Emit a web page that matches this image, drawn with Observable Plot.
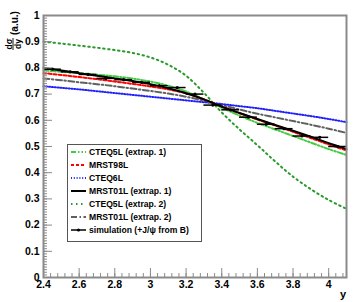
<!DOCTYPE html>
<html><head><meta charset="utf-8">
<script src="https://cdn.jsdelivr.net/npm/d3@7"></script>
<script src="https://cdn.jsdelivr.net/npm/@observablehq/plot@0.6"></script>
<style>body{margin:0;background:#fff}#c{width:357px;height:302px}</style>
</head><body><div id="c"></div>
<script>
// rapidity grid (x) for the theory curves
const xGrid = [2.4,2.5,2.6,2.7,2.8,2.9,3.0,3.1,3.2,3.3,3.4,3.5,3.6,3.7,3.8,3.9,4.0,4.1];
const cteq5lEx1 = [0.790,0.785,0.780,0.774,0.768,0.759,0.748,0.732,0.710,0.680,0.648,0.618,0.590,0.565,0.540,0.515,0.490,0.468];
const mrst98l   = [0.780,0.773,0.765,0.757,0.748,0.739,0.729,0.718,0.703,0.680,0.652,0.627,0.603,0.580,0.556,0.532,0.508,0.485];
const cteq6l    = [0.730,0.724,0.718,0.711,0.704,0.697,0.690,0.683,0.676,0.669,0.662,0.654,0.646,0.636,0.626,0.616,0.605,0.593];
const mrst01lEx1= [0.800,0.790,0.780,0.770,0.760,0.750,0.738,0.722,0.703,0.680,0.652,0.628,0.605,0.582,0.560,0.537,0.513,0.490];
const cteq5lEx2 = [0.900,0.893,0.885,0.877,0.868,0.857,0.840,0.812,0.770,0.705,0.630,0.565,0.505,0.443,0.385,0.337,0.296,0.262];
const mrst01lEx2= [0.760,0.753,0.745,0.738,0.730,0.721,0.712,0.702,0.690,0.675,0.658,0.641,0.625,0.611,0.597,0.583,0.568,0.552];
// simulation histogram (bin centres, values, half bin width)
const simX = [2.45,2.55,2.65,2.75,2.85,2.95,3.05,3.15,3.25,3.35,3.45,3.55,3.65,3.75,3.85,3.95,4.05];
const simV = [0.795,0.785,0.775,0.760,0.755,0.745,0.732,0.725,0.700,0.658,0.640,0.612,0.585,0.568,0.540,0.535,0.500];
const simHalf = 0.05;
// ticks
const xTicks = [2.4,2.6,2.8,3.0,3.2,3.4,3.6,3.8,4.0];
const xMinor = d3.range(2.4, 4.1001, 0.04);
const yTicks = [0,0.1,0.2,0.3,0.4,0.5,0.6,0.7,0.8,0.9,1];
const yMinor = d3.range(0, 1.0001, 0.01);
const legendLabels = ["CTEQ5L (extrap. 1)","MRST98L","CTEQ6L","MRST01L (extrap. 1)","CTEQ5L (extrap. 2)","MRST01L (extrap. 2)","simulation (+J/\u03c8 from B)"];

const series = [
  {name:"CTEQ5L (extrap. 2)", v:cteq5lEx2, stroke:"#2a9a2a", dash:"1.5,3.5", w:2},
  {name:"MRST01L (extrap. 2)", v:mrst01lEx2, stroke:"#606060", dash:"6,2.5,1.5,2.5", w:2},
  {name:"CTEQ6L", v:cteq6l, stroke:"#2020ff", dash:"1,1.8", w:2},
  {name:"CTEQ5L (extrap. 1)", v:cteq5lEx1, stroke:"#44cc44", dash:"5,2,1.5,2,1.5,2", w:2},
  {name:"MRST98L", v:mrst98l, stroke:"#ff0000", dash:"3,2", w:2},
  {name:"MRST01L (extrap. 1)", v:mrst01lEx1, stroke:"#000000", dash:null, w:2}
];
const lineMarks = series.map(s => Plot.lineY(xGrid.map((x,i)=>({x, y:s.v[i]})), {
  x:"x", y:"y", stroke:s.stroke, strokeWidth:s.w, strokeDasharray:s.dash, curve:"catmull-rom"}));
const sim = simX.map((x,i)=>({x, x1:x-simHalf, x2:x+simHalf, y:simV[i]}));

const fmt = d => d===0 ? "0" : d===1 ? "1" : String(+d.toFixed(1));
const tickStroke = "#8a8a8a";
const plot = Plot.plot({
  width:357, height:302,
  marginLeft:43, marginRight:11, marginTop:15, marginBottom:25,
  x:{domain:[2.4,4.1]},
  y:{domain:[0,1]},
  style:{fontFamily:"'Liberation Sans', Arial, sans-serif", fontWeight:"bold", fontSize:"10.5px", background:"white", color:"black"},
  marks:[
    ...lineMarks,
    Plot.ruleY(sim, {y:"y", x1:"x1", x2:"x2", stroke:"black", strokeWidth:1.5}),
    Plot.dot(sim, {x:"x", y:"y", r:1.6, fill:"black"}),
    Plot.frame({stroke:tickStroke, strokeWidth:2}),
    Plot.axisX(xMinor, {tickSize:4, dy:-4, text:null, label:null, stroke:tickStroke}),
    Plot.axisX(xTicks, {tickSize:9, dy:-9, text:null, label:null, stroke:tickStroke}),
    Plot.axisX(xTicks, {tickSize:0, tickPadding:3, tickFormat:fmt, label:null}),
    Plot.axisY(yMinor, {tickSize:4, dx:4, text:null, label:null, stroke:tickStroke}),
    Plot.axisY(yTicks, {tickSize:9, dx:9, text:null, label:null, stroke:tickStroke}),
    Plot.axisY(yTicks, {tickSize:0, tickPadding:4, tickFormat:fmt, label:null})
  ]
});
document.getElementById("c").appendChild(plot);

const svg = d3.select(plot);
// x axis title
svg.append("text").attr("x",346).attr("y",298).attr("text-anchor","end")
  .attr("font-size",11).attr("font-weight","bold").text("y");
// y axis title: d sigma / dy (a.u.)
const g = svg.append("g").attr("transform","translate(13,44) rotate(-90)").attr("font-weight","bold");
g.append("line").attr("x1",-6).attr("x2",6).attr("stroke","black").attr("stroke-width",0.9);
g.append("text").attr("y",-1.5).attr("text-anchor","middle").attr("font-size",8.5).text("d\u03c3");
g.append("text").attr("y",7.5).attr("text-anchor","middle").attr("font-size",8.5).text("dy");
g.append("text").attr("x",9).attr("y",5).attr("text-anchor","start").attr("font-size",10).text("(a.u.)");

// legend
const lg = svg.append("g").attr("font-size",8.6).attr("font-weight","bold");
lg.append("rect").attr("x",67.5).attr("y",144.5).attr("width",134).attr("height",97)
  .attr("fill","white").attr("stroke","#555").attr("stroke-width",1);
const styleFor = {};
series.forEach(s => styleFor[s.name] = s);
legendLabels.forEach((lab,i) => {
  const yy = 152 + 13*i;
  const s = styleFor[lab];
  if (s) {
    lg.append("line").attr("x1",71).attr("x2",86).attr("y1",yy).attr("y2",yy)
      .attr("stroke",s.stroke).attr("stroke-width",s.w).attr("stroke-dasharray",s.dash);
  } else {
    lg.append("line").attr("x1",71).attr("x2",86).attr("y1",yy).attr("y2",yy).attr("stroke","black").attr("stroke-width",1.5);
    lg.append("circle").attr("cx",78.5).attr("cy",yy).attr("r",1.6).attr("fill","black");
  }
  lg.append("text").attr("x",89).attr("y",yy).attr("dy","0.35em").attr("text-anchor","start").text(lab);
});
</script>
</body></html>
